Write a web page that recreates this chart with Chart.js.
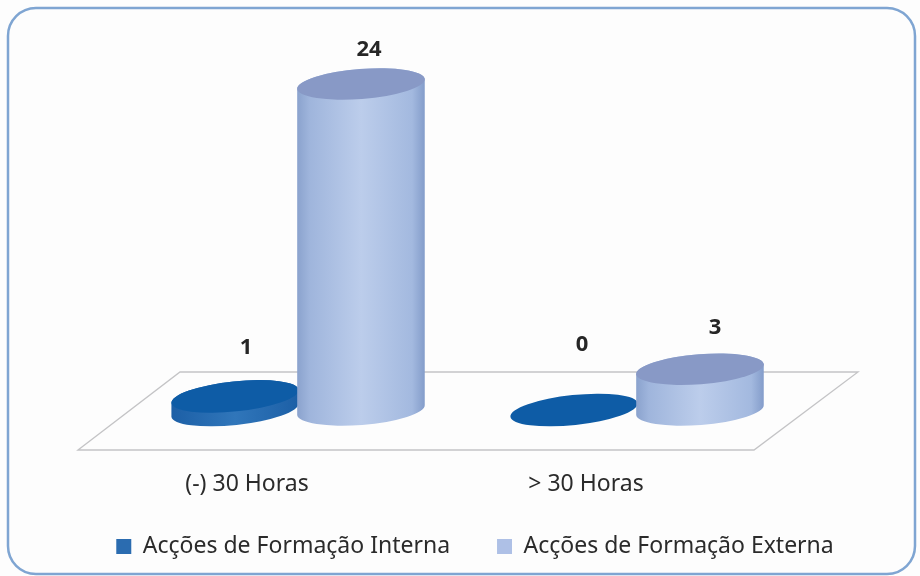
<!DOCTYPE html>
<html>
<head>
<meta charset="utf-8">
<style>html,body{margin:0;padding:0;background:#fdfdfd}canvas{display:block}</style>
<script src="https://cdn.jsdelivr.net/npm/chart.js@4/dist/chart.umd.min.js"></script>
</head>
<body>
<canvas id="c" width="920" height="576"></canvas>
<script>
const categories = ["(-) 30 Horas", "> 30 Horas"];
const seriesNames = ["Acções de Formação Interna", "Acções de Formação Externa"];
const interna = [1, 0];
const externa = [24, 3];

const TILT = [-6 * Math.PI / 180, -4.5 * Math.PI / 180];
const TOPS = ["#0e5ca6", "#8899c6"];
const SIDES = [
  [[0, "#1c5fa6"], [.5, "#3076ba"], [1, "#1c5fa6"]],
  [[0, "#8aa2cd"], [.1, "#9fb5dc"], [.5, "#bccdeb"], [.9, "#a3b9df"], [1, "#839cca"]]
];
const LABEL_SHIFT = [[[11, -49], [8, -65]], [[8, -34], [15, -42]]];
const FLOOR = [[78, 450], [180, 372], [858, 372], [754, 450]];

const cylinders = {
  id: "cylinders",
  afterLayout(chart) { chart.scales.x.bottom += 30; },
  beforeDraw(chart) {
    const ctx = chart.ctx;
    ctx.save();
    ctx.fillStyle = "#fdfdfd";
    ctx.fillRect(0, 0, chart.width, chart.height);
    ctx.strokeStyle = "#7fa5d2";
    ctx.lineWidth = 2.5;
    ctx.beginPath();
    ctx.roundRect(8, 8, 907, 566, 28);
    ctx.stroke();
    ctx.strokeStyle = "#c4c4c6";
    ctx.lineWidth = 1.3;
    ctx.beginPath();
    FLOOR.forEach((p, i) => i ? ctx.lineTo(p[0], p[1]) : ctx.moveTo(p[0], p[1]));
    ctx.closePath();
    ctx.stroke();
    ctx.restore();
  },
  beforeDatasetDraw() { return false; },
  afterDatasetsDraw(chart) {
    const ctx = chart.ctx;
    ctx.save();
    chart.data.datasets.forEach((ds, d) => {
      chart.getDatasetMeta(d).data.forEach((bar, i) => {
        const rx = bar.width / 2 + 1, ry = 15, rot = TILT[d];
        if (bar.base - bar.y > 0.5) {
          const g = ctx.createLinearGradient(bar.x - rx, 0, bar.x + rx, 0);
          SIDES[d].forEach(s => g.addColorStop(s[0], s[1]));
          ctx.fillStyle = g;
          ctx.beginPath();
          ctx.ellipse(bar.x, bar.base, rx, ry, rot, 0, Math.PI);
          ctx.ellipse(bar.x, bar.y, rx, ry, rot, Math.PI, 2 * Math.PI);
          ctx.closePath();
          ctx.fill();
        }
        ctx.fillStyle = TOPS[d];
        ctx.beginPath();
        ctx.ellipse(bar.x, bar.y, rx, ry, rot, 0, 2 * Math.PI);
        ctx.fill();
      });
    });
    ctx.fillStyle = "#262626";
    ctx.font = "bold 22px 'Noto Sans'";
    ctx.textAlign = "center";
    ctx.textBaseline = "middle";
    chart.data.datasets.forEach((ds, d) => {
      chart.getDatasetMeta(d).data.forEach((bar, i) => {
        const s = LABEL_SHIFT[d][i];
        ctx.fillText(String(ds.data[i]), bar.x + s[0], bar.y + s[1]);
      });
    });
    ctx.restore();
  }
};

new Chart(document.getElementById("c"), {
  type: "bar",
  plugins: [cylinders],
  data: {
    labels: categories,
    datasets: [
      { label: seriesNames[0], data: interna, backgroundColor: "#2b6cb0", categoryPercentage: 0.743, barPercentage: 1 },
      { label: seriesNames[1], data: externa, backgroundColor: "#aec0e6", categoryPercentage: 0.743, barPercentage: 1 }
    ]
  },
  options: {
    responsive: false,
    animation: false,
    layout: { padding: { left: 30, right: 0, top: 84, bottom: 8 } },
    plugins: {
      tooltip: { enabled: false },
      title: { display: false },
      legend: {
        position: "bottom",
        labels: {
          boxWidth: 15, boxHeight: 15, padding: 47,
          color: "#2b2b2b",
          font: { family: "'Noto Sans'", size: 23 }
        }
      }
    },
    scales: {
      x: {
        grid: { display: false, drawTicks: false },
        border: { display: false },
        ticks: {
          padding: 61, labelOffset: -51, maxRotation: 0, color: "#2b2b2b",
          font: { family: "'Noto Sans'", size: 23 }
        },
        afterFit(s) { s.height = 78; }
      },
      y: {
        min: 0, max: 24,
        grid: { display: false },
        border: { display: false },
        ticks: { display: false },
        afterFit(s) { s.width = 98.5; }
      },
      y2: {
        position: "right", min: 0, max: 24,
        grid: { display: false },
        border: { display: false },
        ticks: { display: false },
        afterFit(s) { s.width = 113.5; }
      }
    }
  }
});
</script>
</body>
</html>
